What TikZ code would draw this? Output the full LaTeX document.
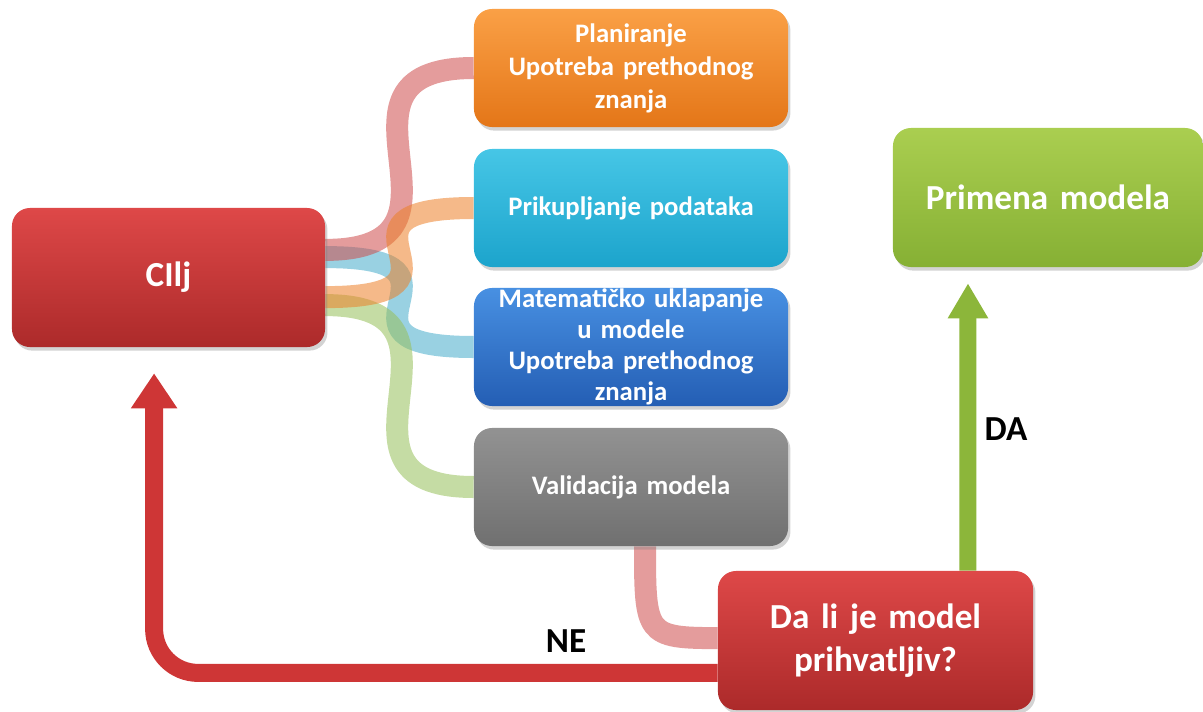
\documentclass[tikz,border=0pt]{standalone}
\usepackage{fontspec}
\setmainfont{Carlito}[WordSpace=0.8]
\usetikzlibrary{arrows.meta,shadows,calc}
\pgfdeclarelayer{background}
\pgfsetlayers{background,main}
\definecolor{redT}{RGB}{222,72,72}
\definecolor{redB}{RGB}{172,42,42}
\definecolor{orgT}{RGB}{250,160,70}
\definecolor{orgB}{RGB}{228,118,24}
\definecolor{cyaT}{RGB}{70,198,230}
\definecolor{cyaB}{RGB}{28,164,204}
\definecolor{bluT}{RGB}{72,144,226}
\definecolor{bluB}{RGB}{36,94,180}
\definecolor{gryT}{RGB}{146,146,146}
\definecolor{gryB}{RGB}{112,112,112}
\definecolor{grnT}{RGB}{170,206,80}
\definecolor{grnB}{RGB}{134,176,52}
\definecolor{bandR}{RGB}{205,75,75}
\definecolor{bandO}{RGB}{236,128,40}
\definecolor{bandB}{RGB}{70,172,202}
\definecolor{bandG}{RGB}{150,192,90}
\definecolor{arrR}{RGB}{206,54,54}
\definecolor{arrG}{RGB}{140,182,58}
\tikzset{
  box/.style={rounded corners=0.45cm, minimum width=7.85cm, minimum height=2.95cm,
    text width=7.4cm, align=center, text=white, inner sep=0pt,
    font=\fontsize{19}{23.4}\selectfont\bfseries,
    drop shadow={shadow xshift=0.06cm, shadow yshift=-0.09cm, opacity=0.35}},
  bigbox/.style={box, minimum height=3.475cm, font=\fontsize{25}{30.5}\selectfont\bfseries},
  band/.style={line width=0.55cm, draw opacity=0.55},
  bigarrow/.style={line width=0.45cm, rounded corners=1.1cm},
  lbl/.style={font=\fontsize{25}{30}\selectfont\bfseries, text=black, inner sep=0pt}
}
\begin{document}
\begin{tikzpicture}[x=0.025cm, y=-0.025cm]
\useasboundingbox (0,0) rectangle (1203,711);

% nodes
\node[bigbox, minimum width=7.825cm, top color=redT, bottom color=redB] (cilj) at (168.5,277.5) {CIlj};
\node[box, top color=orgT, bottom color=orgB] (plan) at (631,68) {Planiranje\\Upotreba prethodnog\\znanja};
\node[box, top color=cyaT, bottom color=cyaB] (prik) at (631,208) {Prikupljanje podataka};
\node[box, top color=bluT, bottom color=bluB, font=\fontsize{19}{22}\selectfont\bfseries] (mat) at (631,347) {Matematičko uklapanje\\u modele\\Upotreba prethodnog\\znanja};
\node[box, top color=gryT, bottom color=gryB] (val) at (631,487) {Validacija modela};
\node[bigbox, minimum width=7.75cm, top color=grnT, bottom color=grnB] (prim) at (1048,197.5) {Primena modela};
\node[bigbox, minimum width=7.875cm, top color=redT, bottom color=redB] (dali) at (875.5,640.5) {Da li je model\\prihvatljiv?};

\node[lbl] (da) at (1006,429) {DA};
\node[lbl] (ne) at (566,641) {NE};

% bands (behind boxes)
\begin{pgfonlayer}{background}
  \draw[band, bandB] ([yshift=0.51cm]cilj.east) .. controls +(4.2cm,0) and +(-4.2cm,0) .. (mat.west);
  \draw[band, bandG] ([yshift=-0.69cm]cilj.east) .. controls +(4.2cm,0) and +(-4.2cm,0) .. (val.west);
  \draw[band, bandR] ([yshift=0.69cm]cilj.east) .. controls +(4.2cm,0) and +(-4.2cm,0) .. (plan.west);
  \draw[band, bandO] ([yshift=-0.49cm]cilj.east) .. controls +(4.2cm,0) and +(-4.2cm,0) .. (prik.west);
  \draw[band, bandR] ([xshift=0.35cm]val.south) .. controls +(0,-2.2cm) and +(-1.8cm,0) .. ([yshift=0.06cm]dali.west);
  \draw[bigarrow, arrR, -{Triangle[length=0.875cm, width=1.1cm]}]
    ([yshift=-0.81cm]dali.west) -| ([xshift=-0.36cm, yshift=-0.65cm]cilj.south);
  \draw[line width=0.425cm, arrG, -{Triangle[length=0.875cm, width=0.95cm]}]
    ([xshift=2.31cm]dali.north) -- ([xshift=-2cm, yshift=-0.4cm]prim.south);
\end{pgfonlayer}
\end{tikzpicture}
\end{document}
